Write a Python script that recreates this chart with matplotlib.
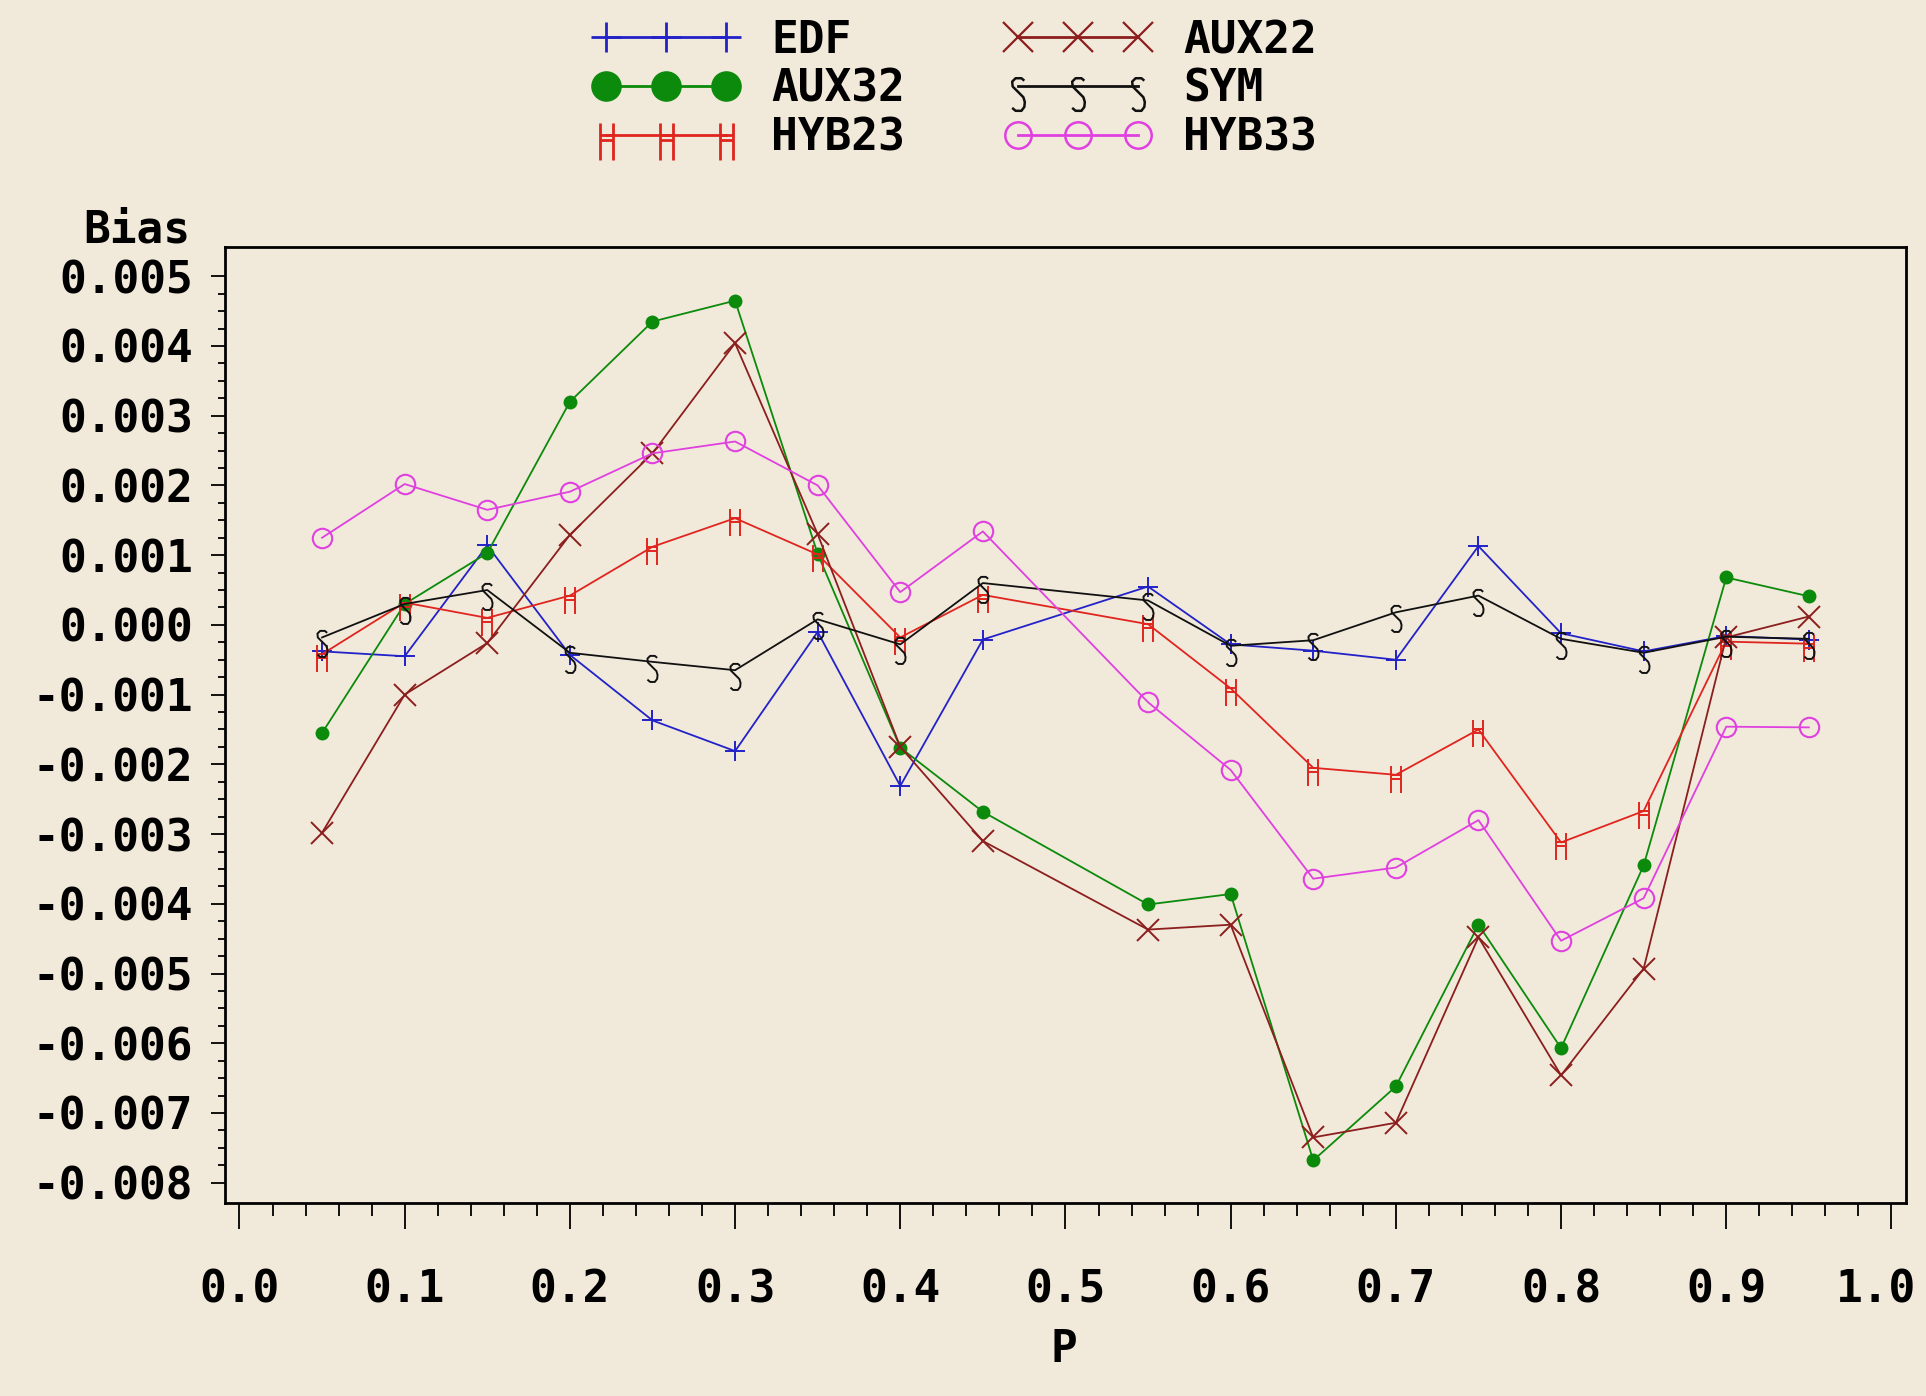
import matplotlib
matplotlib.use("Agg")
import matplotlib.pyplot as plt
import matplotlib.transforms as mtransforms
from matplotlib.path import Path
from matplotlib.lines import Line2D
import numpy as np

# data (no point at p = 0.5)
p = [0.05, 0.10, 0.15, 0.20, 0.25, 0.30, 0.35, 0.40, 0.45,
     0.55, 0.60, 0.65, 0.70, 0.75, 0.80, 0.85, 0.90, 0.95]

edf = [-0.00038, -0.00045, 0.00114, -0.00043, -0.00137, -0.00181, -0.00010, -0.00231, -0.00021,
       0.00055, -0.00028, -0.00037, -0.00050, 0.00113, -0.00012, -0.00038, -0.00016, -0.00021]
aux32 = [-0.00155, 0.00030, 0.00103, 0.00320, 0.00435, 0.00465, 0.00102, -0.00176, -0.00268,
         -0.00401, -0.00386, -0.00768, -0.00662, -0.00430, -0.00607, -0.00345, 0.00068, 0.00041]
hyb23 = [-0.00042, 0.00032, 0.00010, 0.00042, 0.00112, 0.00153, 0.00101, -0.00018, 0.00043,
         0.00001, -0.00091, -0.00205, -0.00215, -0.00150, -0.00312, -0.00267, -0.00024, -0.00027]
aux22 = [-0.00298, -0.00100, -0.00026, 0.00129, 0.00246, 0.00404, 0.00130, -0.00175, -0.00310,
         -0.00437, -0.00430, -0.00735, -0.00714, -0.00448, -0.00646, -0.00493, -0.00018, 0.00012]
sym = [-0.00018, 0.00030, 0.00050, -0.00040, -0.00053, -0.00065, 0.00008, -0.00028, 0.00060,
       0.00035, -0.00030, -0.00022, 0.00018, 0.00042, -0.00020, -0.00040, -0.00017, -0.00020]
hyb33 = [0.00125, 0.00202, 0.00165, 0.00191, 0.00246, 0.00263, 0.00200, 0.00047, 0.00134,
         -0.00111, -0.00208, -0.00364, -0.00348, -0.00280, -0.00453, -0.00392, -0.00146, -0.00147]

yticks = [-0.008, -0.007, -0.006, -0.005, -0.004, -0.003, -0.002, -0.001,
          0.000, 0.001, 0.002, 0.003, 0.004, 0.005]
xticks = [0.0, 0.1, 0.2, 0.3, 0.4, 0.5, 0.6, 0.7, 0.8, 0.9, 1.0]

bg = "#F1E9DA"
c_edf = "#2222C8"
c_aux32 = "#0B8A0B"
c_hyb23 = "#E0251F"
c_aux22 = "#8C1E1E"
c_sym = "#111111"
c_hyb33 = "#E040E0"

# SAS-like symbols: "H" with a double bar, and an "S" hanging below the point
h_marker = Path([(-6.5, 12), (-6.5, -25), (6.5, 12), (6.5, -25),
                 (-6.5, 0), (6.5, 0), (-6.5, -5), (6.5, -5)],
                [Path.MOVETO, Path.LINETO] * 4)
s_pts = [(6, 6), (3, 8.5), (-3, 8.5), (-6.5, 5), (-6, 0), (5, -11),
         (6.5, -16), (6, -21), (3, -25), (-3, -25), (-6.5, -22)]
s_marker = Path(s_pts, [Path.MOVETO] + [Path.LINETO] * (len(s_pts) - 1))

plt.rcParams["font.family"] = ["DejaVu Sans Mono", "DejaVu Sans"]
plt.rcParams["font.weight"] = "bold"

fig = plt.figure(figsize=(19.26, 13.96), dpi=100, facecolor=bg)
ax = fig.add_axes([0.1168, 0.1383, 0.8728, 0.6848], facecolor=bg)

lw = 1.3
ax.plot(p, edf, color=c_edf, lw=lw, marker="+", ms=15, mew=1.4)
ax.plot(p, aux32, color=c_aux32, lw=lw, marker="o", ms=9, mec=c_aux32)
ax.plot(p, hyb23, color=c_hyb23, lw=lw, marker=h_marker, ms=26, mew=1.4, mfc="none")
ax.plot(p, aux22, color=c_aux22, lw=lw, marker="x", ms=16, mew=1.4)
ax.plot(p, sym, color=c_sym, lw=lw, marker=s_marker, ms=28, mew=1.4, mfc="none")
ax.plot(p, hyb33, color=c_hyb33, lw=lw, marker="o", ms=14, mew=1.5, mfc="none")

ax.set_xlim(-0.0088, 1.0088)
ax.set_ylim(-0.00829, 0.00542)

ax.set_xticks(xticks)
ax.set_xticklabels(["%.1f" % v for v in xticks])
ax.set_xticks(np.arange(0, 1.001, 0.02), minor=True)
ax.set_yticks(yticks)
ax.set_yticklabels(["%.3f" % v if v != 0 else "0.000" for v in yticks])
ax.set_yticks(np.arange(-0.008, 0.00501, 0.00025), minor=True)

ax.tick_params(axis="x", which="major", direction="out", length=19, width=1.3,
               pad=28, labelsize=32, colors="black")
ax.tick_params(axis="x", which="minor", direction="out", length=9.5, width=1.3)
ax.tick_params(axis="y", which="major", direction="out", length=10, width=1.3,
               pad=13, labelsize=32)
ax.tick_params(axis="y", which="minor", direction="out", length=5, width=1.3)

# the last x label is nudged left so it stays inside the picture
last = ax.get_xticklabels()[-1]
last.set_transform(last.get_transform() +
                   mtransforms.ScaledTranslation(-0.15, 0, fig.dpi_scale_trans))

for s in ax.spines.values():
    s.set_linewidth(2.0)
    s.set_color("black")

fig.text(866 * 1.228 / 1926, 1 - 1349 / 1396, "P", ha="center", va="center", fontsize=32)
fig.text(190 / 1926, 1 - 230 / 1396, "Bias", ha="right", va="center", fontsize=32)

llw = 2.0
handles = [
    Line2D([], [], color=c_edf, lw=llw, marker="+", ms=22, mew=2),
    Line2D([], [], color=c_aux32, lw=llw, marker="o", ms=21, mec=c_aux32),
    Line2D([], [], color=c_hyb23, lw=llw, marker=h_marker, ms=36, mew=2, mfc="none"),
    Line2D([], [], color=c_aux22, lw=llw, marker="x", ms=21, mew=1.6),
    Line2D([], [], color=c_sym, lw=llw, marker=s_marker, ms=35, mew=1.8, mfc="none"),
    Line2D([], [], color=c_hyb33, lw=llw, marker="o", ms=19, mew=1.8, mfc="none"),
]
labels = ["EDF", "AUX32", "HYB23", "AUX22", "SYM", "HYB33"]
fig.legend(handles, labels, ncol=2, numpoints=3, loc="upper left",
           bbox_to_anchor=(593 / 1926, 1 - 19 / 1396), frameon=False,
           fontsize=32, handlelength=3.29, handletextpad=0.72, columnspacing=2.25,
           labelspacing=0.13, borderpad=0, borderaxespad=0)

fig.savefig("out.png", dpi=100, facecolor=bg)
